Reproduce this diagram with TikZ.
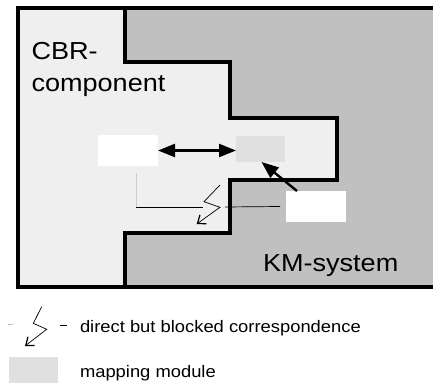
\documentclass[tikz,border=0pt]{standalone}
\usepackage{fontspec}
\setmainfont[FakeStretch=1.1]{Liberation Sans}
\usepackage{tikz}
\usetikzlibrary{arrows.meta,calc}

\definecolor{cbrgray}{gray}{0.937}
\definecolor{kmgray}{gray}{0.753}
\definecolor{mapgray}{gray}{0.878}

\begin{document}
\begin{tikzpicture}[
  x=1pt, y=-1pt,
  every node/.style={inner sep=0pt, outer sep=0pt},
  bigtext/.style={font=\fontsize{24.6}{32}\selectfont, anchor=base west, align=left},
  legtext/.style={font=\fontsize{16.7}{20}\selectfont, anchor=base west},
  wall/.style={line width=4pt},
  whitebox/.style={fill=white, minimum width=60pt, minimum height=31pt},
  mapbox/.style={fill=mapgray, minimum width=49pt, minimum height=26pt},
  link/.style={line width=2.4pt},
  blocked/.style={line width=0.7pt, -{Straight Barb[length=7pt, width=11pt, line width=1.2pt]}},
  >={Triangle[length=17pt, width=13pt]},
]
\path[use as bounding box] (0,0) rectangle (433,385);
\clip (0,0) rectangle (433,385);

% the two systems
\fill[cbrgray] (18,8) rectangle (445,287);
\fill[kmgray] (125,8) -| (445,287) -| (125,233) -| (230,180) -| (337,118) -| (230,62) -| (125,8) -- cycle;
\draw[wall] (125,8) |- (230,62) |- (337,118) -- (337,180) -- (230,180) -- (230,233) -- (125,233) -- (125,287);
\draw[wall] (445,8) -| (18,287) -- (445,287);

\node[bigtext] (cbr) at (31.5,91.5) {CBR-\\component};
\node[bigtext] (km) at (263,271.5) {KM-system};

\node[whitebox] (cbrbox) at (128,150.5) {};
\node[mapbox] (mapmod) at (260.5,149) {};
\node[whitebox] (kmbox) at (316,206.5) {};

\draw[link, <->] (cbrbox.east) -- (cbrbox.east -| mapmod.west);
\draw[link, ->] ($(kmbox.north west)+(11,0)$) -- ($(mapmod.south)+(1,0)$);

\coordinate (dstart) at ($(cbrbox.south west)+(38,7)$);
\coordinate (dbend) at (136,207);
\coordinate (dend) at ($(kmbox.west)+(-6,0)$);
\draw[gray!40, line width=0.7pt] (dstart) -- (dbend);
\draw[line width=0.7pt] (dbend) -- (203,207);
\draw[line width=0.7pt] (225,207) -- (dend);
\draw[blocked] (220,185) -- (204,201.7) -- (220,207.3) -- (196.7,224);

% legend
\draw[gray!50, line width=0.7pt] (8,324) -- (13,324);
\draw[blocked] (41.7,306.7) -- (33.3,323.3) -- (46.7,329.3) -- (25,346);
\draw[line width=0.7pt] (60,325) -- (67,325);
\node[legtext] (blockedtext) at (80,332) {direct but blocked correspondence};

\node[mapbox] (legmap) at (33.5,370) {};
\node[legtext] (maptext) at (80,377) {mapping module};
\end{tikzpicture}
\end{document}
